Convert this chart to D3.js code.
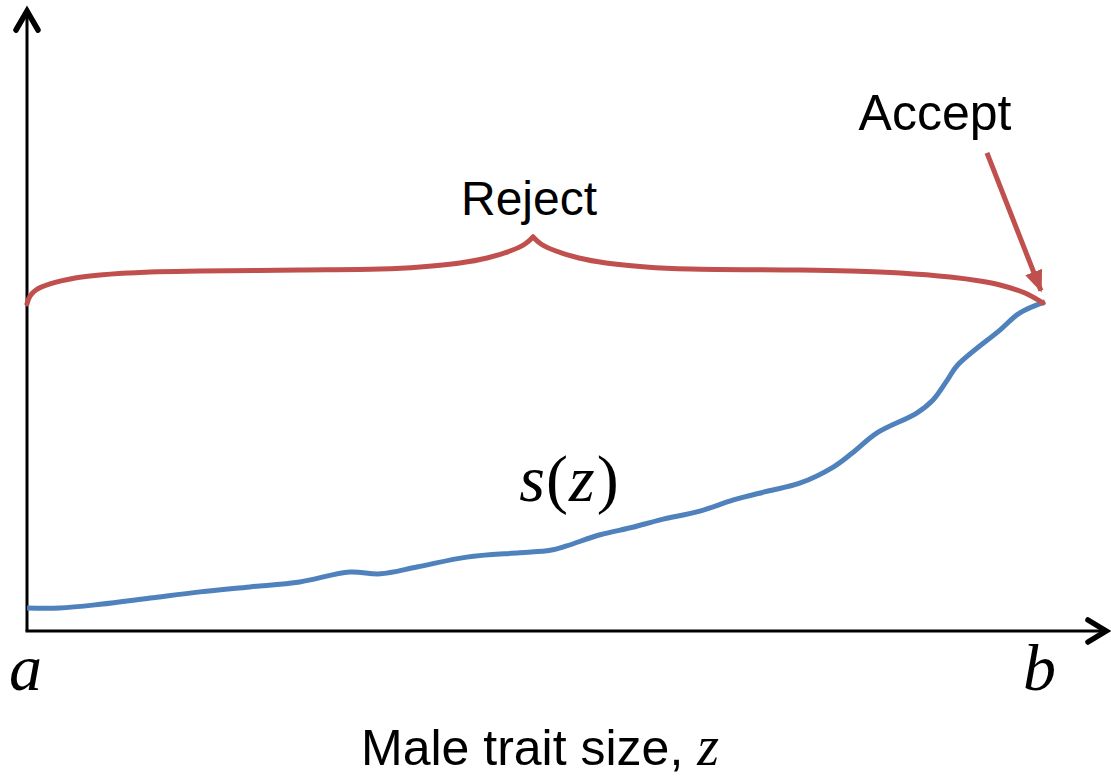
<!DOCTYPE html>
<html>
<head>
<meta charset="utf-8">
<title>Male trait size</title>
<script src="https://cdnjs.cloudflare.com/ajax/libs/d3/7.8.5/d3.min.js"></script>
<style>
    body { margin: 0; background: #fff; }
    svg { display: block; }
</style>
</head>
<body>
<script>
// s(z) curve, z and s in 0..100 units (z = 0 is a, z = 100 is b)
var curveZ = [0, 3.2, 7.2, 12.1, 17.0, 21.9, 26.8, 31.7, 34.7, 38.3, 43.2, 48.4, 51.4, 53.0, 56.3, 59.5, 62.2, 66.1, 69.4, 72.7, 75.9, 79.2, 81.1, 83.5, 87.4, 89.0, 90.4, 91.4, 95.6, 97.5, 100];
var curveS = [3.7, 3.7, 4.3, 5.3, 6.3, 7.1, 7.9, 9.5, 9.2, 10.3, 11.9, 12.6, 13.0, 13.7, 15.5, 16.7, 17.9, 19.3, 21.1, 22.5, 23.8, 26.4, 28.7, 31.9, 35.1, 37.2, 40.4, 42.8, 48.5, 51.2, 53.0];

// "Reject" brace, left and right halves meeting at the cusp
var braceLeftZ = [0, 0.29, 0.88, 2.26, 4.72, 7.17, 12.08, 17.0, 26.82, 34.68, 38.61, 42.53, 45.19, 47.45, 48.92, 49.71];
var braceLeftS = [52.66, 53.94, 54.91, 55.88, 56.84, 57.33, 57.81, 57.97, 58.13, 58.29, 58.62, 59.26, 60.06, 61.19, 62.32, 63.45];
var braceRightZ = [49.71, 50.49, 51.96, 54.22, 56.88, 60.81, 65.13, 75.93, 80.84, 85.76, 90.67, 93.61, 95.58, 98.04, 99.8];
var braceRightS = [63.45, 62.32, 61.19, 60.06, 59.26, 58.62, 58.29, 58.13, 57.97, 57.65, 57.0, 56.36, 55.72, 54.43, 52.82];

// "Accept" arrow, from label down to the end of the curve
var arrowZ = [94.3, 99.6];
var arrowS = [77.0, 54.8];

var endTicks = [0, 100];
var endLabels = ["a", "b"];

var w = 1111, h = 778;
var blue = "#4f81bd", red = "#c0504d";

var x = d3.scaleLinear().domain([0, 100]).range([27, 1045]);
var y = d3.scaleLinear().domain([0, 100]).range([631, 10]);

var svg = d3.select("body").append("svg")
    .attr("width", w)
    .attr("height", h);

var defs = svg.append("defs");
defs.append("marker")
    .attr("id", "redhead")
    .attr("markerUnits", "userSpaceOnUse")
    .attr("viewBox", "0 0 22 18")
    .attr("refX", 20).attr("refY", 9)
    .attr("markerWidth", 22).attr("markerHeight", 18)
    .attr("orient", "auto")
    .append("path")
    .attr("d", "M0,0 L22,9 L0,18 Z")
    .attr("fill", red);

// axes
svg.append("line")
    .attr("x1", x(0)).attr("y1", y(0))
    .attr("x2", x(0)).attr("y2", 11)
    .attr("stroke", "#000").attr("stroke-width", 3);
svg.append("line")
    .attr("x1", x(0) - 1.5).attr("y1", y(0))
    .attr("x2", 1106).attr("y2", y(0))
    .attr("stroke", "#000").attr("stroke-width", 3);

// open chevron arrowheads
svg.append("path")
    .attr("d", "M" + (x(0) - 11) + ",30 L" + x(0) + ",11 L" + (x(0) + 11) + ",30")
    .attr("fill", "none").attr("stroke", "#000")
    .attr("stroke-width", 5.5).attr("stroke-linecap", "round").attr("stroke-linejoin", "miter");
svg.append("path")
    .attr("d", "M1088," + (y(0) - 11) + " L1106," + y(0) + " L1088," + (y(0) + 11))
    .attr("fill", "none").attr("stroke", "#000")
    .attr("stroke-width", 5.5).attr("stroke-linecap", "round").attr("stroke-linejoin", "miter");

// a and b at the ends of the z axis
var xAxis = d3.axisBottom(x)
    .tickValues(endTicks)
    .tickSize(0)
    .tickPadding(0)
    .tickFormat(function(d, i) { return endLabels[i]; });
var gx = svg.append("g")
    .attr("transform", "translate(0," + y(0) + ")")
    .call(xAxis);
gx.select(".domain").remove();
gx.selectAll("text")
    .attr("y", 59)
    .attr("dy", null)
    .attr("font-family", "'Liberation Serif', 'Times New Roman', serif")
    .attr("font-style", "italic")
    .attr("font-size", "66px")
    .attr("fill", "#000");
gx.selectAll(".tick").filter(function(d) { return d === 0; }).select("text").attr("dx", -2);
gx.selectAll(".tick").filter(function(d) { return d === 100; }).select("text").attr("dx", -6);

var line = d3.line()
    .x(function(d) { return x(d[0]); })
    .y(function(d) { return y(d[1]); });

// s(z)
svg.append("path")
    .datum(d3.zip(curveZ, curveS))
    .attr("d", line.curve(d3.curveCatmullRom.alpha(0.5)))
    .attr("fill", "none")
    .attr("stroke", blue)
    .attr("stroke-width", 5);

// brace
[d3.zip(braceLeftZ, braceLeftS), d3.zip(braceRightZ, braceRightS)].forEach(function(pts) {
    svg.append("path")
        .datum(pts)
        .attr("d", line.curve(d3.curveCatmullRom.alpha(0.5)))
        .attr("fill", "none")
        .attr("stroke", red)
        .attr("stroke-width", 5)
        .attr("stroke-linecap", "round");
});

// accept arrow
svg.append("path")
    .datum(d3.zip(arrowZ, arrowS))
    .attr("d", line.curve(d3.curveLinear))
    .attr("fill", "none")
    .attr("stroke", red)
    .attr("stroke-width", 5)
    .attr("marker-end", "url(#redhead)");

// labels
svg.append("text")
    .attr("x", 529).attr("y", 215)
    .attr("text-anchor", "middle")
    .attr("font-family", "'Liberation Sans', Arial, sans-serif")
    .attr("font-size", "48px")
    .text("Reject");

svg.append("text")
    .attr("x", 935).attr("y", 130)
    .attr("text-anchor", "middle")
    .attr("font-family", "'Liberation Sans', Arial, sans-serif")
    .attr("font-size", "50px")
    .text("Accept");

var sz = svg.append("text")
    .attr("x", 569).attr("y", 501)
    .attr("text-anchor", "middle")
    .attr("font-family", "'Liberation Serif', 'Times New Roman', serif")
    .attr("font-size", "66px");
sz.append("tspan").attr("font-style", "italic").text("s");
sz.append("tspan").attr("dx", 1).text("(");
sz.append("tspan").attr("font-style", "italic").attr("dx", 1).text("z");
sz.append("tspan").attr("dx", 2).text(")");

var xl = svg.append("text")
    .attr("x", 361).attr("y", 765)
    .attr("font-family", "'Liberation Sans', Arial, sans-serif")
    .attr("font-size", "50px");
xl.append("tspan").text("Male trait size, ");
xl.append("tspan")
    .attr("font-family", "'Liberation Serif', 'Times New Roman', serif")
    .attr("font-style", "italic")
    .attr("font-size", "56px")
    .text("z");
</script>
</body>
</html>
